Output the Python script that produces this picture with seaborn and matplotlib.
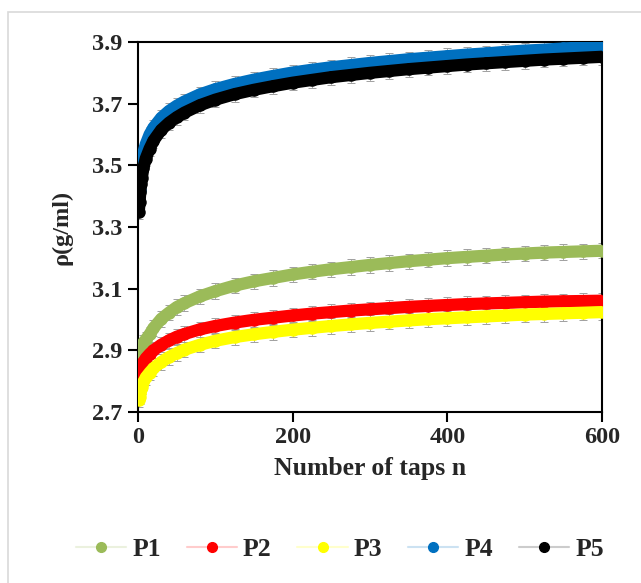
import numpy as np
import pandas as pd
import matplotlib
matplotlib.use("Agg")
import matplotlib.pyplot as plt
import seaborn as sns
from matplotlib.lines import Line2D
from matplotlib.patches import Rectangle
from matplotlib.colors import to_rgb

sns.set_theme(style="white")
plt.rcParams['font.family'] = ['Liberation Serif', 'DejaVu Serif']
plt.rcParams['font.weight'] = 'bold'

taps = [1, 2, 3, 4, 5, 7, 10, 15, 20, 30, 40, 50, 60, 80, 100, 125, 150, 175,
        200, 225, 250, 275, 300, 325, 350, 375, 400, 425, 450, 475, 500, 525,
        550, 575, 600]

p1 = [2.870, 2.885, 2.895, 2.905, 2.915, 2.925, 2.935, 2.952, 2.972, 3.002, 3.022,
      3.040, 3.053, 3.075, 3.092, 3.110, 3.124, 3.135, 3.146, 3.155, 3.163, 3.170,
      3.177, 3.183, 3.189, 3.194, 3.199, 3.203, 3.207, 3.211, 3.214, 3.217, 3.219,
      3.221, 3.223]
p2 = [2.795, 2.815, 2.830, 2.842, 2.850, 2.862, 2.874, 2.888, 2.900, 2.918, 2.932,
      2.944, 2.953, 2.968, 2.979, 2.990, 2.999, 3.006, 3.013, 3.019, 3.024, 3.029,
      3.033, 3.037, 3.041, 3.044, 3.047, 3.050, 3.052, 3.054, 3.056, 3.058, 3.059,
      3.060, 3.061]
p3 = [2.740, 2.750, 2.762, 2.773, 2.782, 2.797, 2.812, 2.828, 2.842, 2.862, 2.878,
      2.891, 2.902, 2.918, 2.931, 2.943, 2.952, 2.960, 2.967, 2.973, 2.979, 2.984,
      2.989, 2.993, 2.997, 3.001, 3.004, 3.007, 3.010, 3.013, 3.016, 3.018, 3.020,
      3.022, 3.024]
p4 = [3.380, 3.420, 3.450, 3.470, 3.500, 3.541, 3.568, 3.600, 3.622, 3.654, 3.676,
      3.693, 3.707, 3.730, 3.747, 3.764, 3.778, 3.790, 3.801, 3.810, 3.818, 3.825,
      3.832, 3.838, 3.844, 3.849, 3.854, 3.859, 3.863, 3.868, 3.872, 3.875, 3.879,
      3.882, 3.884]
p5 = [3.350, 3.380, 3.415, 3.440, 3.460, 3.492, 3.522, 3.554, 3.580, 3.615, 3.638,
      3.656, 3.671, 3.695, 3.713, 3.731, 3.745, 3.757, 3.768, 3.777, 3.786, 3.793,
      3.800, 3.806, 3.812, 3.817, 3.822, 3.827, 3.831, 3.835, 3.839, 3.843, 3.846,
      3.849, 3.852]

series_names = ["P1", "P2", "P3", "P4", "P5"]
series_vals = [p1, p2, p3, p4, p5]
colors = ["#9BBB59", "#FF0000", "#FFFF00", "#0070C0", "#000000"]
err = 0.025

y_ticks = [2.7, 2.9, 3.1, 3.3, 3.5, 3.7, 3.9]
x_ticks = [0, 200, 400, 600]

df = pd.concat([pd.DataFrame({"n": taps, "rho": v, "series": s})
                for s, v in zip(series_names, series_vals)], ignore_index=True)

fig = plt.figure(figsize=(6.41, 5.83), dpi=100)
ax = fig.add_axes([138/641, 1-412/583, (602-138)/641, (412-42)/583])

# outer chart border
fig.patches.append(Rectangle((8/641, -0.02), 1.0, 1-12/583+0.02, transform=fig.transFigure,
                             fill=False, edgecolor="#d9d9d9", lw=1.2, zorder=0))

for s, c in zip(series_names, colors):
    d = df[df.series == s]
    ax.errorbar(d.n, d.rho, yerr=err, fmt="none", ecolor="#a0a0a0",
                elinewidth=0.6, capsize=2.6, capthick=0.7, zorder=1)

for s, c in zip(series_names, colors):
    d = df[df.series == s]
    sns.lineplot(data=d, x="n", y="rho", color=c, lw=8.8, marker="o",
                 markersize=9, markeredgewidth=0, ax=ax, legend=False,
                 solid_capstyle="round", solid_joinstyle="round", zorder=3)

ax.set_xlim(0, 600)
ax.set_ylim(2.7, 3.9)
ax.set_xticks(x_ticks)
ax.set_yticks(y_ticks)
ax.set_yticklabels([f"{t:.1f}" for t in y_ticks])
ax.tick_params(axis="both", direction="out", length=7, width=1.5, color="black",
               labelsize=17.5, pad=4, left=True, bottom=True)
for lab in ax.get_xticklabels() + ax.get_yticklabels():
    lab.set_fontweight("bold")
for sp in ax.spines.values():
    sp.set_color("black")
    sp.set_linewidth(1.5)

ax.set_xlabel("Number of taps n", fontsize=18.5, fontweight="bold", labelpad=6)
ax.set_ylabel("ρ(g/ml)", fontsize=17.5, fontweight="bold", labelpad=14)


def pale(c, f=0.8):
    r, g, b = to_rgb(c)
    return (r + (1 - r) * f, g + (1 - g) * f, b + (1 - b) * f)


handles = [Line2D([0], [0], color=pale(c), lw=1.5, marker="o", markersize=7,
                  markerfacecolor=c, markeredgecolor=c) for c in colors]
leg = fig.legend(handles, series_names, loc="center", bbox_to_anchor=(340/641, 1-549/583),
                 ncol=5, frameon=False, handlelength=1.95, columnspacing=1.0,
                 handletextpad=0.25, prop={"family": "Liberation Serif", "weight": "bold", "size": 18.5})

fig.savefig("out.png", dpi=100)
